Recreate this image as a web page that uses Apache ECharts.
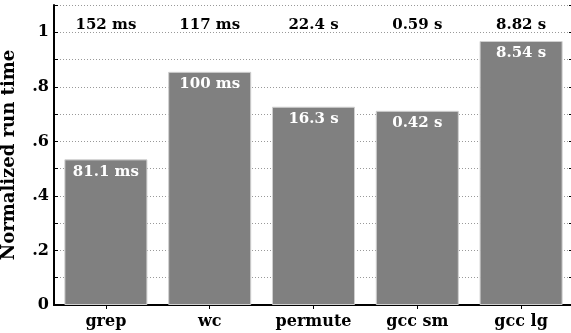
<!DOCTYPE html>
<html><head><meta charset="utf-8">
<script src="https://cdn.jsdelivr.net/npm/echarts@6/dist/echarts.min.js"></script>
<style>html,body{margin:0;padding:0;background:#fff}#c{width:571px;height:333px}</style>
</head><body><div id="c"></div>
<script>
var categories = ['grep', 'wc', 'permute', 'gcc sm', 'gcc lg'];
var normalized = [0.534, 0.855, 0.727, 0.712, 0.968];
var baseLabels = ['152 ms', '117 ms', '22.4 s', '0.59 s', '8.82 s'];
var barLabels = ['81.1 ms', '100 ms', '16.3 s', '0.42 s', '8.54 s'];
var yTickLabels = {0: '0', 2: '.2', 4: '.4', 6: '.6', 8: '.8', 10: '1'};

var FONT = 'DejaVu Serif';
var chart = echarts.init(document.getElementById('c'), null, {renderer: 'canvas'});
chart.setOption({
  animation: false,
  backgroundColor: '#fff',
  grid: {left: 54, top: 5, width: 519, bottom: 28, containLabel: false, outerBoundsMode: 'none'},
  xAxis: [{
    type: 'category', data: categories, position: 'bottom',
    axisLine: {lineStyle: {color: '#000', width: 2}},
    axisTick: {show: false},
    axisLabel: {color: '#000', fontFamily: FONT, fontWeight: 'bold', fontSize: 16, margin: 9}
  }, {
    type: 'category', data: baseLabels, position: 'top',
    axisLine: {lineStyle: {color: '#000', width: 1.5}},
    axisTick: {show: true, inside: true, alignWithLabel: true, length: 4, lineStyle: {color: '#000'}},
    axisLabel: {inside: true, color: '#000', fontFamily: FONT, fontWeight: 'bold', fontSize: 15, margin: 13}
  }],
  yAxis: [{
    type: 'value', min: 0, max: 1.1, interval: 0.1,
    name: 'Normalized run time', nameLocation: 'middle', nameGap: 36,
    nameTextStyle: {color: '#000', fontFamily: FONT, fontWeight: 'bold', fontSize: 18},
    axisLine: {show: true, lineStyle: {color: '#000', width: 2}},
    axisTick: {show: true, inside: true, length: 4, lineStyle: {color: '#000'}},
    axisLabel: {color: '#000', fontFamily: FONT, fontWeight: 'bold', fontSize: 16, margin: 5,
      formatter: function (v) { var k = Math.round(v * 10); return yTickLabels[k] !== undefined ? yTickLabels[k] : ''; }},
    splitLine: {show: true, lineStyle: {color: '#999', type: [1, 2], width: 1}}
  }, {
    type: 'value', min: 0, max: 1.1, interval: 0.1, position: 'right',
    axisLine: {show: true, lineStyle: {color: '#000', width: 1.5}},
    axisTick: {show: true, inside: true, length: 4, lineStyle: {color: '#000'}},
    axisLabel: {show: false},
    splitLine: {show: false}
  }],
  series: [{
    type: 'bar', xAxisIndex: 0, yAxisIndex: 0,
    data: normalized, barWidth: '80%',
    itemStyle: {color: '#808080', borderColor: '#d0d0d0', borderWidth: 1},
    label: {show: true, position: 'insideTop', distance: 5, color: '#fff', fontFamily: FONT, fontWeight: 'bold', fontSize: 15,
      formatter: function (p) { return barLabels[p.dataIndex]; }}
  }]
});
</script></body></html>
